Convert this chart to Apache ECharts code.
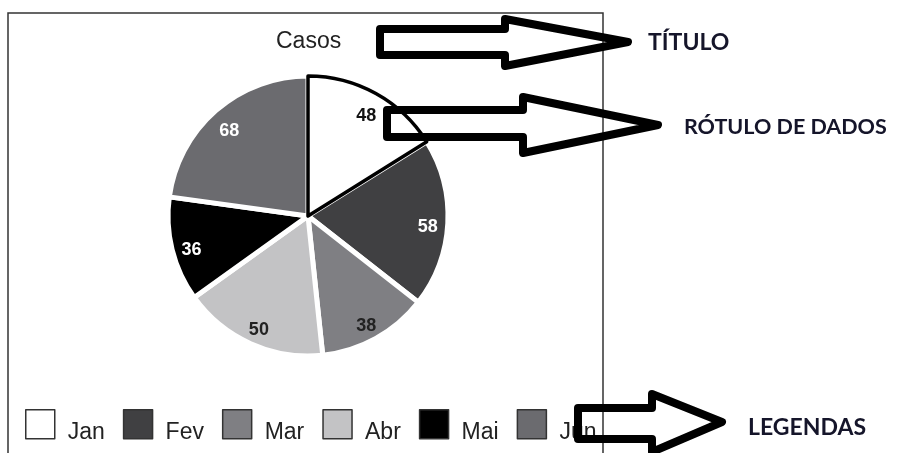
<!DOCTYPE html>
<html>
<head>
<meta charset="utf-8">
<script src="https://cdn.jsdelivr.net/npm/echarts@6/dist/echarts.min.js"></script>
<style>
    html, body { margin: 0; padding: 0; background: #fff; }
    #ChartDIV { width: 904px; height: 453px; }
</style>
</head>
<body>
<div id="ChartDIV"></div>
<script>
var categories = ['Jan', 'Fev', 'Mar', 'Abr', 'Mai', 'Jun'];
var casos = [48, 58, 38, 50, 36, 68];
var sliceColors = ['#ffffff', '#404042', '#7f7f83', '#c3c3c5', '#000000', '#6b6b6f'];
var labelColors = ['#111', '#fff', '#222', '#222', '#fff', '#fff'];

var myChart = echarts.init(document.getElementById('ChartDIV'));

var center = [308, 216];

function arrow(points) {
    return {
        type: 'polygon',
        z: 100,
        shape: { points: points },
        style: { fill: 'none', stroke: '#000', lineWidth: 8, lineJoin: 'round' }
    };
}

function annoText(x, y, text, size) {
    return {
        type: 'text',
        z: 100,
        x: x,
        y: y,
        style: { text: text, font: 'bold ' + size + 'px Lato', fill: '#15152a', verticalAlign: 'middle' }
    };
}

var option = {
    animation: false,
    title: {
        text: 'Casos',
        left: 276,
        top: 30,
        padding: 0,
        textStyle: { fontFamily: 'Liberation Sans', fontSize: 23, fontWeight: 'normal', color: '#222' }
    },
    legend: {
        data: categories,
        left: 25,
        top: 409,
        padding: 0,
        itemWidth: 29,
        itemHeight: 29,
        itemGap: 18,
        icon: 'rect',
        itemStyle: { borderColor: '#333', borderWidth: 1.5 },
        formatter: '{t|{name}}',
        textStyle: {
            width: 48,
            padding: [0, 0, 0, 8],
            rich: {
                t: {
                    fontFamily: 'Liberation Sans',
                    fontSize: 23,
                    color: '#222',
                    padding: [16, 0, 0, 0]
                }
            }
        }
    },
    series: [
        {
            // fatias
            type: 'pie',
            center: center,
            radius: 140,
            silent: true,
            label: { show: false },
            labelLine: { show: false },
            itemStyle: { borderColor: '#fff', borderWidth: 5 },
            data: categories.map(function (name, i) {
                return { name: name, value: casos[i], itemStyle: { color: sliceColors[i] } };
            })
        },
        {
            // contorno de Jan
            type: 'pie',
            center: center,
            radius: 140,
            silent: true,
            z: 3,
            label: { show: false },
            labelLine: { show: false },
            data: categories.map(function (name, i) {
                return {
                    name: name,
                    value: casos[i],
                    itemStyle: {
                        color: 'transparent',
                        borderColor: i === 0 ? '#000' : 'transparent',
                        borderWidth: i === 0 ? 3.5 : 0
                    }
                };
            })
        },
        {
            // rótulos de dados
            type: 'pie',
            center: center,
            radius: [94, 140],
            silent: true,
            z: 4,
            itemStyle: { color: 'transparent' },
            labelLine: { show: false },
            labelLayout: { dy: 5 },
            label: {
                show: true,
                position: 'inside',
                formatter: '{c}',
                fontFamily: 'Liberation Sans',
                fontWeight: 'bold',
                fontSize: 18
            },
            data: categories.map(function (name, i) {
                return { name: name, value: casos[i], label: { color: labelColors[i] } };
            })
        }
    ],
    graphic: [
        {
            type: 'rect',
            z: 0,
            shape: { x: 8, y: 13, width: 595, height: 470 },
            style: { fill: 'none', stroke: '#333', lineWidth: 1.5 }
        },
        arrow([[380, 29], [505, 29], [505, 19], [628, 42], [505, 66], [505, 55], [380, 55]]),
        arrow([[387, 110], [523, 110], [523, 97], [658, 125], [523, 153], [523, 137], [387, 137]]),
        arrow([[578, 408], [652, 408], [652, 394], [722, 422], [652, 452], [652, 439], [578, 439]]),
        annoText(648, 43, 'TÍTULO', 23),
        annoText(684, 127, 'RÓTULO DE DADOS', 21.5),
        annoText(748, 428, 'LEGENDAS', 23)
    ]
};

myChart.setOption(option);
</script>
</body>
</html>
